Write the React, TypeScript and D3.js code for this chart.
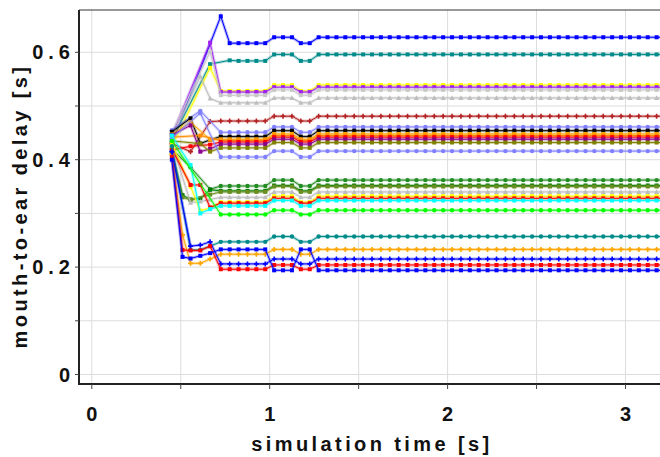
import React from "react";
import * as d3 from "d3";

// sample times of the steady part (s)
const regularTimes = [
  0.725, 0.775, 0.825, 0.875, 0.925, 0.975, 1.025, 1.075, 1.125, 1.175, 1.225,
  1.275, 1.325, 1.375, 1.425, 1.475, 1.525, 1.575, 1.625, 1.675, 1.725, 1.775,
  1.825, 1.875, 1.925, 1.975, 2.025, 2.075, 2.125, 2.175, 2.225, 2.275, 2.325,
  2.375, 2.425, 2.475, 2.525, 2.575, 2.625, 2.675, 2.725, 2.775, 2.825, 2.875,
  2.925, 2.975, 3.025, 3.075, 3.125, 3.175, 3.225,
];
const stepTime = 1.0;
const dipTimes = [1.175, 1.225];

const seriesColors = [
  "#0000ff", "#008b8b", "#ffff00", "#a020f0", "#c8c8c8", "#bebebe", "#b22222",
  "#8080ff", "#000000", "#ffa500", "#ff8c00", "#ff0000", "#8b008b", "#808000",
  "#8080ff", "#228b22", "#008000", "#6b8e23", "#bebebe", "#ffff00", "#ff0000",
  "#00ffff", "#00ff00", "#008b8b", "#ffa500", "#0000ff", "#ff0000", "#0000ff",
];
const seriesMarkers = [
  "square", "square", "square", "square", "square", "triangle", "plus",
  "circle", "square", "square", "square", "square", "square", "square",
  "circle", "circle", "square", "square", "triangle", "square", "square",
  "square", "circle", "circle", "plus", "plus", "square", "square",
];

// transient points [time, delay] before the steady part
const earlyPoints: [number, number][][] = [
  [[0.45, 0.432], [0.725, 0.667]],
  [[0.45, 0.437], [0.665, 0.578], [0.775, 0.585]],
  [[0.45, 0.425], [0.665, 0.571]],
  [[0.45, 0.445], [0.665, 0.618]],
  [[0.45, 0.45], [0.665, 0.601]],
  [[0.45, 0.44], [0.61, 0.555], [0.665, 0.514]],
  [[0.45, 0.43], [0.555, 0.415], [0.665, 0.471]],
  [[0.45, 0.455], [0.61, 0.491]],
  [[0.45, 0.452], [0.555, 0.477], [0.61, 0.43], [0.665, 0.437]],
  [[0.45, 0.447], [0.555, 0.47], [0.665, 0.437]],
  [[0.45, 0.442], [0.61, 0.445]],
  [[0.45, 0.418], [0.555, 0.425], [0.665, 0.428]],
  [[0.45, 0.446], [0.555, 0.464], [0.61, 0.415], [0.665, 0.42]],
  [[0.45, 0.435], [0.61, 0.43], [0.665, 0.415]],
  [[0.45, 0.44], [0.61, 0.487]],
  [[0.45, 0.42], [0.555, 0.386], [0.665, 0.345]],
  [[0.45, 0.415], [0.51, 0.334], [0.555, 0.326], [0.61, 0.328], [0.665, 0.344]],
  [[0.45, 0.41], [0.51, 0.33], [0.555, 0.325], [0.665, 0.335]],
  [[0.45, 0.43], [0.555, 0.32], [0.61, 0.322], [0.665, 0.326]],
  [[0.45, 0.43], [0.555, 0.35], [0.61, 0.305], [0.665, 0.31]],
  [[0.45, 0.42], [0.555, 0.353], [0.61, 0.353], [0.665, 0.311]],
  [[0.45, 0.445], [0.555, 0.39], [0.61, 0.3], [0.665, 0.308]],
  [[0.45, 0.435]],
  [[0.45, 0.425], [0.555, 0.232], [0.61, 0.232], [0.665, 0.239]],
  [[0.45, 0.41], [0.51, 0.26], [0.555, 0.207], [0.61, 0.207], [0.665, 0.215]],
  [[0.45, 0.415], [0.555, 0.239], [0.61, 0.241], [0.665, 0.247]],
  [[0.45, 0.405], [0.51, 0.232], [0.555, 0.231], [0.61, 0.231], [0.665, 0.239]],
  [[0.45, 0.4], [0.51, 0.219], [0.555, 0.216], [0.61, 0.221], [0.665, 0.226]],
];

// level held from the end of the transient up to 1 s (and in the dip)
const baseLevels = [
  0.617, 0.584, 0.528, 0.526, 0.52, 0.506, 0.472, 0.451, 0.443, 0.438, 0.436,
  0.433, 0.429, 0.422, 0.405, 0.351, 0.342, 0.34, 0.33, 0.321, 0.319, 0.314,
  0.298, 0.247, 0.224, 0.206, 0.196, 0.233,
];
// level after 1 s
const finalLevels = [
  0.628, 0.596, 0.539, 0.535, 0.53, 0.515, 0.481, 0.461, 0.454, 0.448, 0.445,
  0.442, 0.438, 0.432, 0.416, 0.362, 0.352, 0.35, 0.34, 0.332, 0.328, 0.324,
  0.306, 0.257, 0.233, 0.215, 0.204, 0.194,
];

const yTicks = [0, 0.1, 0.2, 0.3, 0.4, 0.5, 0.6];
const yLabels = [0, 0.2, 0.4, 0.6];
const xTicks = [0, 0.5, 1, 1.5, 2, 2.5, 3];
const xLabels = [0, 1, 2, 3];

const W = 660;
const H = 457;
const left = 79;
const right = 660;
const top = 10;
const bottom = 384;
const font = "'Liberation Sans', Arial, sans-serif";

function buildSeries(i: number) {
  const pts: [number, number][] = earlyPoints[i].map((p) => [p[0], p[1]]);
  const lastT = pts[pts.length - 1][0];
  regularTimes.forEach((t) => {
    if (t <= lastT + 1e-9) return;
    let v = finalLevels[i];
    if (t < stepTime || dipTimes.includes(t)) v = baseLevels[i];
    pts.push([t, v]);
  });
  return pts;
}

function Marker({ kind, cx, cy, color }: { kind: string; cx: number; cy: number; color: string }) {
  if (kind === "circle") return <circle cx={cx} cy={cy} r={2.2} fill={color} />;
  if (kind === "triangle")
    return <path d={`M${cx},${cy - 2.6}L${cx + 2.6},${cy + 2}L${cx - 2.6},${cy + 2}Z`} fill={color} />;
  if (kind === "plus")
    return (
      <path
        d={`M${cx - 2.5},${cy}H${cx + 2.5}M${cx},${cy - 2.5}V${cy + 2.5}`}
        stroke={color}
        strokeWidth={1.6}
      />
    );
  return <rect x={cx - 2} y={cy - 2} width={4} height={4} fill={color} />;
}

export default function App() {
  const x = d3.scaleLinear().domain([0, 3]).range([91.8, 625.5]);
  const y = d3.scaleLinear().domain([0, 0.6]).range([374.5, 52.3]);
  const line = d3
    .line<[number, number]>()
    .x((d) => x(d[0]))
    .y((d) => y(d[1]));
  const series = seriesColors.map((c, i) => buildSeries(i));

  return (
    <svg width={W} height={H} style={{ position: "absolute", left: 0, top: 0, background: "#fff" }}>
      <defs>
        <clipPath id="plot">
          <rect x={left} y={top} width={right - left} height={bottom - top} />
        </clipPath>
      </defs>
      <g>
        {yTicks.map((t) => (
          <line key={"gy" + t} x1={left} x2={right} y1={y(t)} y2={y(t)} stroke="#dcdcdc" strokeWidth={1} />
        ))}
        {xTicks.map((t) => (
          <line key={"gx" + t} x1={x(t)} x2={x(t)} y1={top} y2={bottom} stroke="#dcdcdc" strokeWidth={1} />
        ))}
      </g>
      <g clipPath="url(#plot)">
        {series.map((pts, i) => (
          <g key={i}>
            <path d={line(pts) || ""} fill="none" stroke={seriesColors[i]} strokeOpacity={0.3} strokeWidth={3} />
            <path d={line(pts) || ""} fill="none" stroke={seriesColors[i]} strokeWidth={1} />
            {pts.map((p, j) => (
              <Marker key={j} kind={seriesMarkers[i]} cx={x(p[0])} cy={y(p[1])} color={seriesColors[i]} />
            ))}
          </g>
        ))}
      </g>
      <line x1={left} x2={right} y1={top} y2={top} stroke="#333" strokeWidth={1} />
      <line x1={left} x2={left} y1={top} y2={bottom + 1} stroke="#222" strokeWidth={2} />
      <line x1={left - 1} x2={right} y1={bottom} y2={bottom} stroke="#222" strokeWidth={2} />
      {yTicks.map((t) => (
        <line key={"ty" + t} x1={left - 4} x2={left} y1={y(t)} y2={y(t)} stroke="#444" strokeWidth={1} />
      ))}
      {xTicks.map((t) => (
        <line key={"tx" + t} x1={x(t)} x2={x(t)} y1={bottom} y2={bottom + 5} stroke="#444" strokeWidth={1} />
      ))}
      {yLabels.map((t) => (
        <text
          key={"ly" + t}
          x={70}
          y={y(t) + 7}
          textAnchor="end"
          fontFamily={font}
          fontWeight="bold"
          fontSize={20}
          letterSpacing={5}
          dx={5}
          fill="#111"
        >
          {t === 0 ? "0" : d3.format(".1f")(t)}
        </text>
      ))}
      {xLabels.map((t) => (
        <text
          key={"lx" + t}
          x={x(t) + 2.5}
          y={421}
          textAnchor="middle"
          fontFamily={font}
          fontWeight="bold"
          fontSize={20}
          letterSpacing={5}
          fill="#111"
        >
          {t}
        </text>
      ))}
      <text
        x={372}
        y={451}
        textAnchor="middle"
        fontFamily={font}
        fontWeight="bold"
        fontSize={20}
        letterSpacing={3.4}
        fill="#111"
      >
        simulation time [s]
      </text>
      <text
        transform="translate(27,206) rotate(-90)"
        textAnchor="middle"
        fontFamily={font}
        fontWeight="bold"
        fontSize={20}
        letterSpacing={3.4}
        fill="#111"
      >
        mouth-to-ear delay [s]
      </text>
    </svg>
  );
}
